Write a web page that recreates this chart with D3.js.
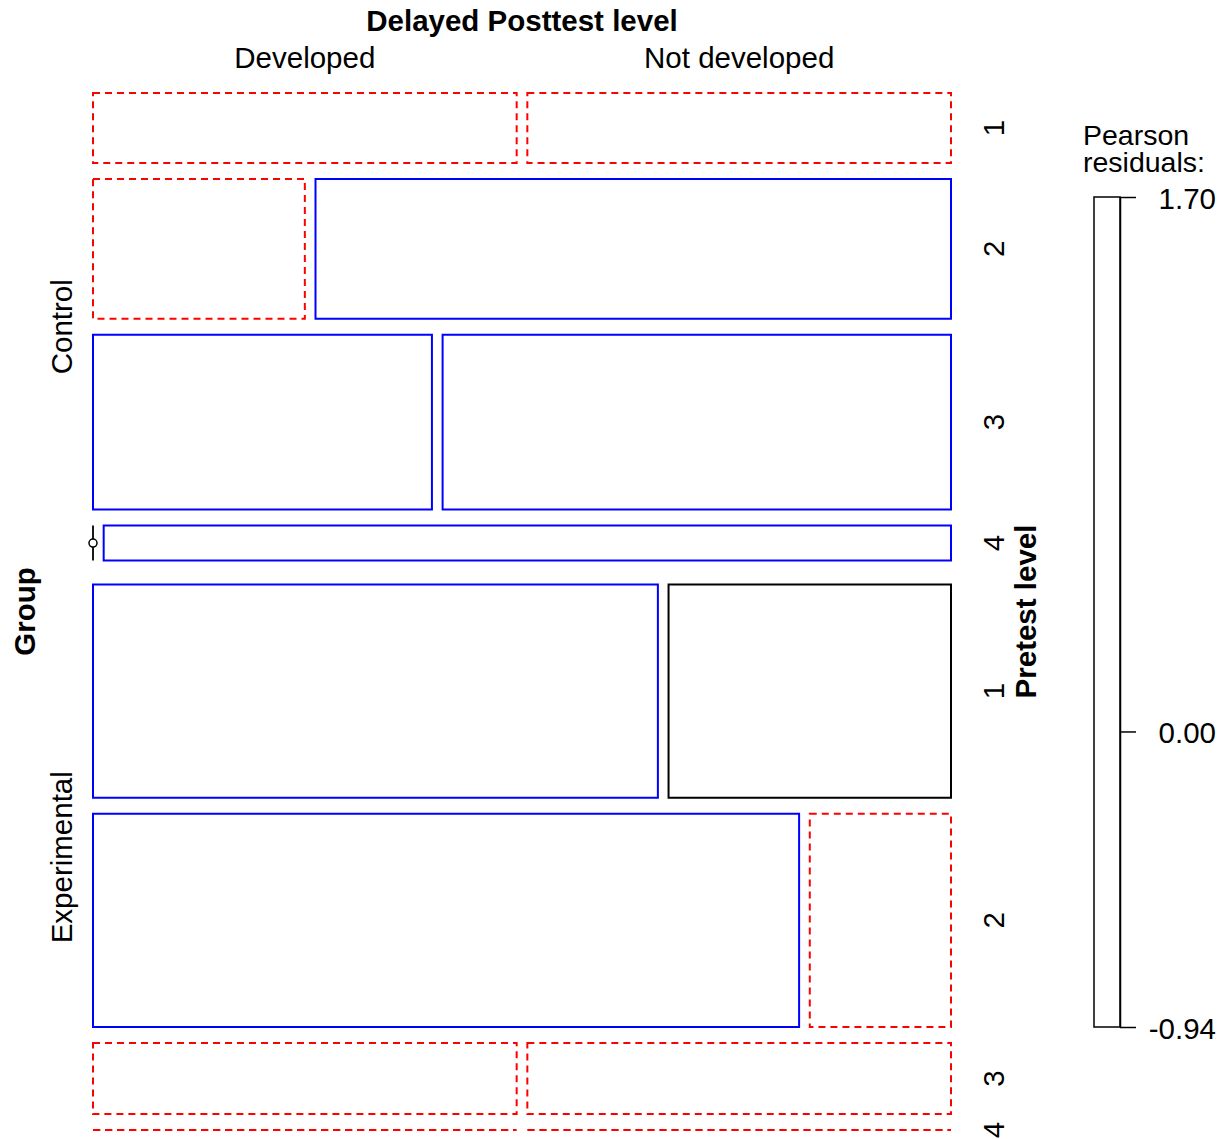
<!DOCTYPE html>
<html>
<head>
<meta charset="utf-8">
<script src="https://cdn.jsdelivr.net/npm/d3@7"></script>
<style>
  body { margin: 0; background: #fff; }
  svg text { font-family: "Liberation Sans", Arial, sans-serif; fill: #000; }
</style>
</head>
<body>
<svg id="chart" width="1225" height="1139"></svg>
<script>
// Three-way table: Group x Pretest level x Delayed Posttest level
const groups = ["Control", "Experimental"];
const pretestLevels = ["1", "2", "3", "4"];
const posttestLevels = ["Developed", "Not developed"];

// counts per pretest level (1..4) for each group and posttest outcome
const controlDeveloped = [1, 1, 2, 0];
const controlNotDeveloped = [1, 3, 3, 1];
const experimentalDeveloped = [4, 5, 1, 0];
const experimentalNotDeveloped = [2, 1, 1, 0];

// legend scale for Pearson residuals
const legendTicks = [1.70, 0.00, -0.94];
const legendTickLabels = ["1.70", "0.00", "-0.94"];

const counts = [
  [controlDeveloped, controlNotDeveloped],
  [experimentalDeveloped, experimentalNotDeveloped]
];

const svg = d3.select("#chart");
const FONT = 29.5;

// ---- expected counts under mutual independence, Pearson residuals ----
const N = d3.sum(counts.flat(2));
const groupTot = groups.map((gName, i) => d3.sum(counts[i].flat()));
const preTot = pretestLevels.map((p, j) => d3.sum(groups, (gName, i) => counts[i][0][j] + counts[i][1][j]));
const postTot = posttestLevels.map((q, k) => d3.sum(groups, (gName, i) => d3.sum(counts[i][k])));
function residual(i, j, k) {
  const e = groupTot[i] * preTot[j] * postTot[k] / (N * N);
  return (counts[i][k][j] - e) / Math.sqrt(e);
}
function cellStyle(r) {
  if (Math.abs(r) < 0.01) return { stroke: "#000", dash: null };
  return r > 0 ? { stroke: "#0000ff", dash: null } : { stroke: "#ff0000", dash: "7,5" };
}

// ---- mosaic geometry: recursive splits (group -> pretest -> posttest) ----
const plotLeft = 93, plotRight = 951, plotTop = 93, plotBottom = 1130;
const gapPost = 10.67, gapPre = gapPost * 1.5, gapGroup = gapPre * 1.5;

// split by group
const groupLen = d3.scaleLinear().domain([0, N])
  .range([0, plotBottom - plotTop - (groups.length - 1) * gapGroup]);
const xLen = d3.scaleLinear().domain([0, 1]).range([0, plotRight - plotLeft - gapPost]);

const rows = [];
const groupSpan = [];
let yGroup = plotTop;
groups.forEach((gName, i) => {
  const gH = groupLen(groupTot[i]);
  groupSpan.push({ name: gName, mid: yGroup + gH / 2 });
  // split the group's band by pretest level
  const preLen = d3.scaleLinear().domain([0, groupTot[i]])
    .range([0, gH - (pretestLevels.length - 1) * gapPre]);
  let yCur = yGroup;
  pretestLevels.forEach((p, j) => {
    const vals = posttestLevels.map((q, k) => counts[i][k][j]);
    const tot = d3.sum(vals);
    const h = preLen(tot);
    let xCur = plotLeft;
    const cells = vals.map((v, k) => {
      const share = tot > 0 ? v / tot : 1 / vals.length;
      const w = xLen(share);
      const c = { i, j, k, v, x: xCur, w, y: yCur, h, r: residual(i, j, k), zero: tot > 0 && v === 0 };
      xCur += w + gapPost;
      return c;
    });
    rows.push({ i, j, y: yCur, h, cells });
    yCur += h + gapPre;
  });
  yGroup += gH + gapGroup;
});

const cellsAll = rows.flatMap(r => r.cells);
const tiles = svg.append("g");

// tiles (drawn as paths so zero-height rows still show as lines)
tiles.selectAll("path.tile")
  .data(cellsAll.filter(c => !c.zero))
  .join("path")
  .attr("class", "tile")
  .attr("d", c => `M${c.x},${c.y}H${c.x + c.w}V${c.y + c.h}H${c.x}Z`)
  .attr("fill", "#fff")
  .attr("stroke", c => cellStyle(c.r).stroke)
  .attr("stroke-dasharray", c => cellStyle(c.r).dash)
  .attr("stroke-width", 2);

// empty cells inside non-empty rows: vertical line with a small circle
const zeros = tiles.selectAll("g.zero").data(cellsAll.filter(c => c.zero)).join("g").attr("class", "zero");
zeros.append("line")
  .attr("x1", c => c.x).attr("x2", c => c.x)
  .attr("y1", c => c.y).attr("y2", c => c.y + c.h)
  .attr("stroke", "#000").attr("stroke-width", 1.8);
zeros.append("circle")
  .attr("cx", c => c.x).attr("cy", c => c.y + c.h / 2).attr("r", 4)
  .attr("fill", "#fff").attr("stroke", "#000").attr("stroke-width", 1.5);

// ---- labels ----
// top: posttest levels (positioned over the first row's tiles)
svg.append("text").attr("x", (plotLeft + plotRight) / 2).attr("y", 31)
  .attr("text-anchor", "middle").attr("font-size", FONT).attr("font-weight", "bold")
  .text("Delayed Posttest level");
svg.selectAll("text.post").data(rows[0].cells).join("text")
  .attr("class", "post")
  .attr("x", c => c.x + c.w / 2).attr("y", 68)
  .attr("text-anchor", "middle").attr("font-size", FONT)
  .text(c => posttestLevels[c.k]);

// left: group levels and variable name
svg.selectAll("text.grp").data(groupSpan).join("text")
  .attr("class", "grp")
  .attr("transform", d => `translate(72,${d.mid}) rotate(-90)`)
  .attr("text-anchor", "middle").attr("font-size", FONT)
  .text(d => d.name);
svg.append("text")
  .attr("transform", `translate(35,${(plotTop + plotBottom) / 2}) rotate(-90)`)
  .attr("text-anchor", "middle").attr("font-size", FONT).attr("font-weight", "bold")
  .text("Group");

// right: pretest levels and variable name
svg.selectAll("text.pre").data(rows).join("text")
  .attr("class", "pre")
  .attr("transform", r => `translate(1004,${r.y + r.h / 2}) rotate(-90)`)
  .attr("text-anchor", "middle").attr("font-size", FONT)
  .text(r => pretestLevels[r.j]);
svg.append("text")
  .attr("transform", `translate(1036,${(plotTop + plotBottom) / 2}) rotate(-90)`)
  .attr("text-anchor", "middle").attr("font-size", FONT).attr("font-weight", "bold")
  .text("Pretest level");

// ---- residual legend ----
const legY = d3.scaleLinear().domain([d3.min(legendTicks), d3.max(legendTicks)]).range([1027, 197]);
const legX0 = 1094, legX1 = 1120;
const legTitle = svg.append("text").attr("x", 1083).attr("y", 145).attr("font-size", 28.5);
legTitle.append("tspan").attr("x", 1083).text("Pearson");
legTitle.append("tspan").attr("x", 1083).attr("dy", 27).text("residuals:");
svg.append("rect")
  .attr("x", legX0).attr("y", legY(d3.max(legendTicks)))
  .attr("width", legX1 - legX0).attr("height", legY(d3.min(legendTicks)) - legY(d3.max(legendTicks)))
  .attr("fill", "#fff").attr("stroke", "#000").attr("stroke-width", 1.5);
const legAxis = d3.axisRight(legY)
  .tickValues(legendTicks)
  .tickFormat((d, idx) => legendTickLabels[idx])
  .tickSize(16)
  .tickSizeOuter(0);
const axG = svg.append("g").attr("transform", `translate(${legX1},0)`).call(legAxis);
axG.select(".domain").attr("stroke", "#000").attr("stroke-width", 1.5);
axG.selectAll(".tick line").attr("stroke", "#000").attr("stroke-width", 1.5);
axG.selectAll(".tick text")
  .attr("x", 96).attr("dy", "0.38em").attr("text-anchor", "end")
  .attr("font-size", FONT).attr("font-family", "Liberation Sans, Arial, sans-serif")
  .attr("fill", "#000");
</script>
</body>
</html>
